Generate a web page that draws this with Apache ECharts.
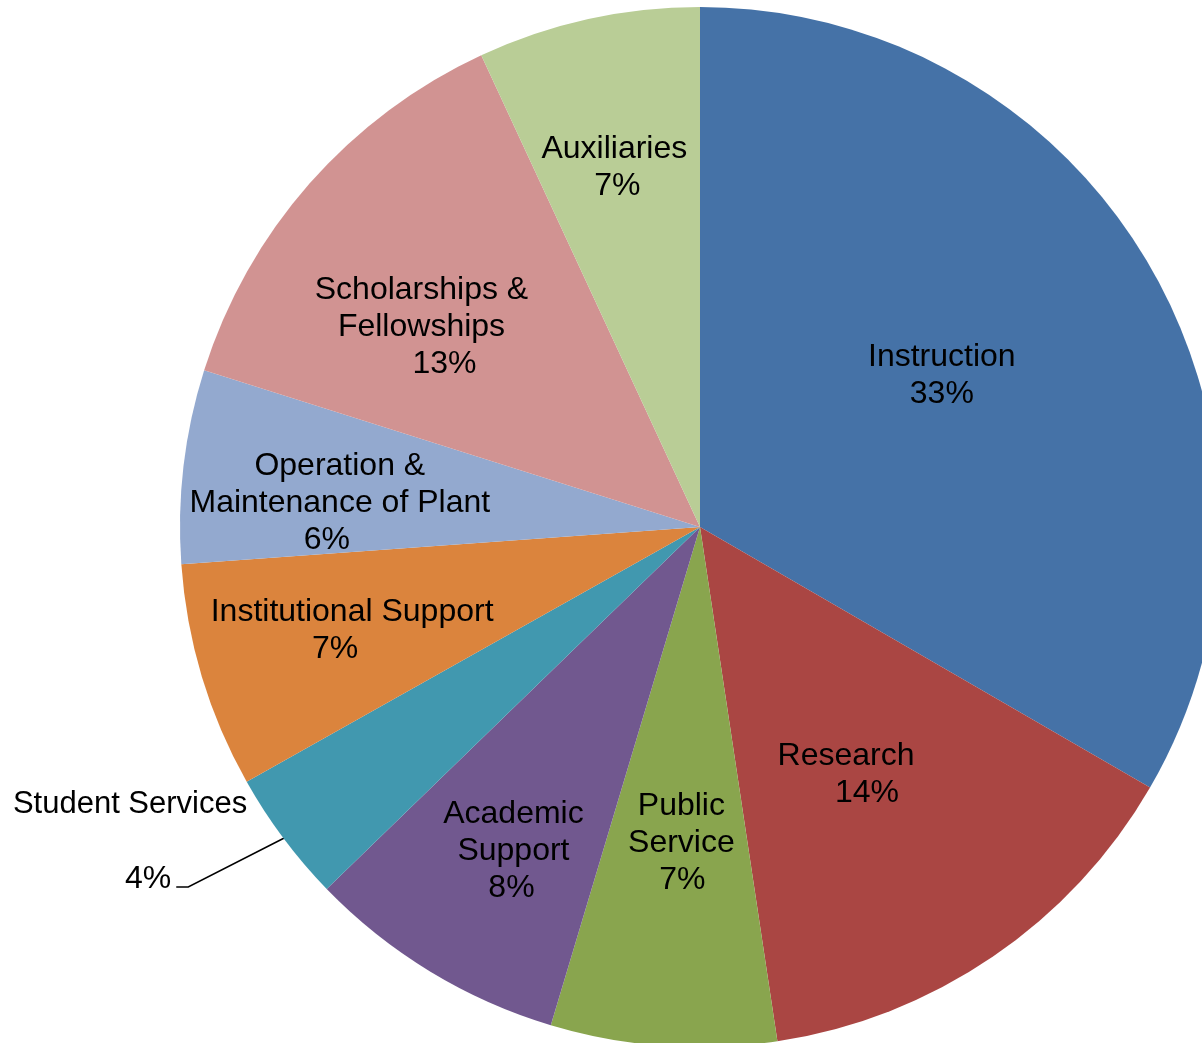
<!DOCTYPE html>
<html>
<head>
<meta charset="utf-8">
<script src="https://cdn.jsdelivr.net/npm/echarts@6/dist/echarts.min.js"></script>
<style>
html,body{margin:0;padding:0;background:#fff;}
#chart{width:1202px;height:1043px;}
</style>
</head>
<body>
<div id="chart"></div>
<script>
// Data
const categories = ['Instruction','Research','Public Service','Academic Support','Student Services','Institutional Support','Operation & Maintenance of Plant','Scholarships & Fellowships','Auxiliaries'];
const values = [33.3, 14.25, 7.0, 8.1, 4.1, 7.0, 6.0, 13.2, 6.9];
const labelText = ['Instruction','Research','Public\nService','Academic\nSupport','Student Services','Institutional Support','Operation &\nMaintenance of Plant','Scholarships &\nFellowships','Auxiliaries'];

// Styles / layout
const colors = ['#4572A7','#AA4643','#89A54E','#71588F','#4198AF','#DB843D','#93A9CF','#D19392','#B9CD96'];
const labelNudge = [[14,-20],[-2,30],[0,54],[-50,99],null,[-96,28],[-99,7],[-81,-26],[-29,-103]];
const pctShift = [0, 21, 1, -2, 0, -17, -13, 23, 3];
const FONT = 'Liberation Sans, Arial, sans-serif';
const FS = 32, LH = 37;

const chart = echarts.init(document.getElementById('chart'), null, {renderer:'canvas'});

const data = categories.map((c,i) => {
  const item = {name:c, value:values[i], itemStyle:{color:colors[i]}};
  if (i === 4) {
    item.label = {
      position:'outside',
      formatter: p => '{n|' + labelText[p.dataIndex] + '}\n{g|}\n{p|' + Math.round(p.percent) + '%}',
      align:'right',
      rich:{
        n:{fontSize:31, lineHeight:36, fontFamily:FONT, color:'#000'},
        g:{fontSize:10, lineHeight:39},
        p:{fontSize:FS, lineHeight:36, fontFamily:FONT, color:'#000', padding:[0,76,0,0]}
      }
    };
    item.labelLine = {show:true, lineStyle:{color:'#000', width:1.5}};
  } else {
    const s = pctShift[i];
    item.label = {
      rich:{
        t:{fontSize:FS, lineHeight:LH, fontFamily:FONT, color:'#000'},
        p:{fontSize:FS, lineHeight:LH, fontFamily:FONT, color:'#000',
           padding: s >= 0 ? [0,0,0,2*s] : [0,-2*s,0,0]}
      }
    };
  }
  return item;
});

chart.setOption({
  animation:false,
  backgroundColor:'#fff',
  series:[{
    type:'pie',
    center:[700,527],
    radius:520,
    startAngle:90,
    clockwise:true,
    avoidLabelOverlap:false,
    itemStyle:{borderWidth:0},
    emphasis:{disabled:true},
    label:{
      show:true,
      position:'inside',
      color:'#000',
      fontFamily:FONT,
      fontSize:FS,
      lineHeight:LH,
      align:'center',
      formatter: p => labelText[p.dataIndex].split('\n').map(s => '{t|' + s + '}').join('\n') +
                      '\n{p|' + Math.round(p.percent) + '%}'
    },
    labelLine:{show:false},
    labelLayout: function(params){
      const i = params.dataIndex;
      if (i === 4) {
        const p0 = params.labelLinePoints && params.labelLinePoints[0];
        if (!p0) return {};
        return {
          x: p0[0] - 36,
          y: p0[1] + 59,
          align:'right',
          verticalAlign:'bottom',
          labelLinePoints:[[p0[0]+1,p0[1]],[p0[0]-95,p0[1]+49],[p0[0]-107,p0[1]+49]]
        };
      }
      const n = labelNudge[i];
      return {dx:n[0], dy:n[1]};
    },
    data:data
  }]
});
</script>
</body>
</html>
